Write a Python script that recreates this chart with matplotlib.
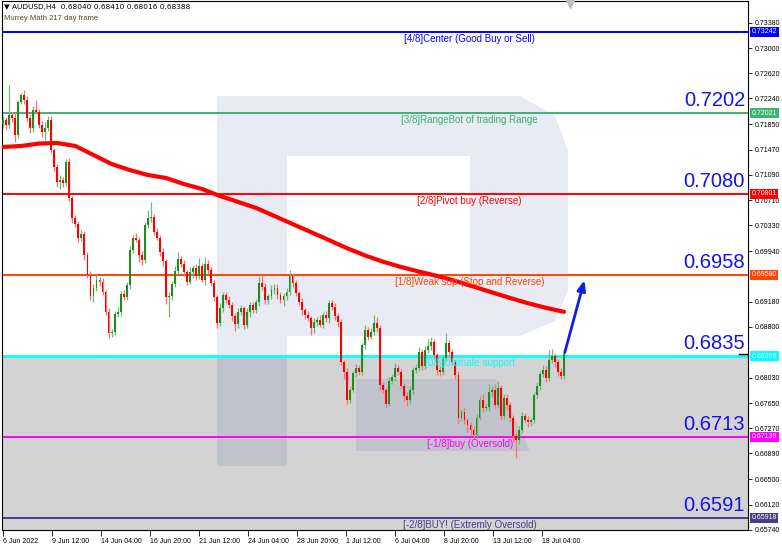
import numpy as np
import matplotlib.pyplot as plt
from matplotlib.transforms import blended_transform_factory
from matplotlib.patches import Polygon

# AUDUSD H4 closes (open of each bar = previous close)
first_open = 0.7185
closes = [
    0.7192, 0.7184, 0.7199, 0.7195, 0.7169, 0.7219, 0.7229, 0.7222, 0.7195, 0.7180,
    0.7207, 0.7204, 0.7184, 0.7174, 0.7180, 0.7192, 0.7146, 0.7121, 0.7098, 0.7101,
    0.7096, 0.7128, 0.7074, 0.7044, 0.7035, 0.7014, 0.7020, 0.6988, 0.6958, 0.6926,
    0.6939, 0.6951, 0.6948, 0.6932, 0.6902, 0.6871, 0.6872, 0.6899, 0.6902, 0.6929,
    0.6925, 0.6943, 0.6996, 0.7014, 0.7011, 0.6988, 0.6981, 0.7033, 0.7044, 0.7045,
    0.7023, 0.7014, 0.6993, 0.6979, 0.6925, 0.6926, 0.6945, 0.6964, 0.6982, 0.6975,
    0.6962, 0.6948, 0.6962, 0.6968, 0.6957, 0.6972, 0.6951, 0.6975, 0.6966, 0.6946,
    0.6925, 0.6886, 0.6908, 0.6928, 0.6920, 0.6913, 0.6896, 0.6884, 0.6902, 0.6908,
    0.6883, 0.6902, 0.6913, 0.6905, 0.6917, 0.6946, 0.6940, 0.6920, 0.6926, 0.6935,
    0.6939, 0.6928, 0.6920, 0.6926, 0.6932, 0.6957, 0.6946, 0.6931, 0.6917, 0.6905,
    0.6898, 0.6893, 0.6878, 0.6887, 0.6890, 0.6883, 0.6898, 0.6893, 0.6916, 0.6910,
    0.6896, 0.6887, 0.6827, 0.6812, 0.6770, 0.6785, 0.6810, 0.6818, 0.6812, 0.6852,
    0.6875, 0.6865, 0.6872, 0.6886, 0.6878, 0.6792, 0.6785, 0.6764, 0.6798, 0.6804,
    0.6818, 0.6812, 0.6791, 0.6776, 0.6770, 0.6785, 0.6815, 0.6818, 0.6842, 0.6821,
    0.6845, 0.6851, 0.6857, 0.6837, 0.6815, 0.6812, 0.6833, 0.6856, 0.6842, 0.6827,
    0.6807, 0.6743, 0.6752, 0.6740, 0.6732, 0.6725, 0.6717, 0.6743, 0.6770, 0.6758,
    0.6759, 0.6782, 0.6785, 0.6762, 0.6788, 0.6746, 0.6773, 0.6762, 0.6743, 0.6716,
    0.6709, 0.6725, 0.6746, 0.6740, 0.6737, 0.6740, 0.6777, 0.6791, 0.6809, 0.6815,
    0.6803, 0.6830, 0.6836, 0.6827, 0.6812, 0.6806, 0.6839,
]
# wick lengths above / below the body, in pips
upper_pips = [
    6, 4, 45, 5, 8, 3, 4, 8, 5, 6, 5, 15, 4, 6, 8, 5, 6, 4, 5, 8,
    4, 5, 6, 3, 5, 4, 6, 5, 4, 6, 5, 8, 4, 5, 3, 6, 4, 5, 8, 5,
    6, 4, 6, 5, 8, 4, 6, 5, 12, 23, 5, 6, 4, 5, 3, 6, 4, 8, 10, 5,
    6, 4, 8, 5, 6, 12, 4, 10, 5, 4, 6, 3, 8, 5, 4, 6, 5, 4, 6, 5,
    4, 6, 5, 4, 5, 10, 12, 6, 4, 8, 5, 6, 4, 5, 6, 8, 4, 5, 3, 6,
    4, 5, 3, 6, 5, 8, 4, 6, 5, 4, 6, 4, 5, 3, 6, 5, 4, 6, 5, 4,
    8, 5, 6, 12, 9, 4, 5, 3, 6, 5, 8, 4, 5, 3, 6, 5, 4, 6, 8, 5,
    6, 10, 8, 5, 4, 6, 5, 14, 4, 5, 3, 6, 4, 5, 3, 4, 5, 6, 5, 8,
    5, 12, 6, 8, 10, 4, 6, 5, 4, 3, 4, 5, 6, 4, 5, 3, 5, 6, 4, 8,
    6, 15, 10, 5, 4, 6, 5,
]
lower_pips = [
    5, 8, 4, 6, 10, 5, 4, 6, 5, 8, 6, 4, 5, 8, 12, 5, 4, 6, 8, 10,
    6, 4, 5, 8, 4, 6, 5, 8, 4, 6, 8, 5, 6, 4, 5, 8, 6, 4, 5, 6,
    4, 5, 6, 5, 4, 10, 8, 5, 4, 6, 5, 4, 6, 8, 10, 30, 6, 5, 4, 5,
    6, 5, 4, 8, 6, 5, 4, 8, 6, 5, 6, 8, 5, 6, 4, 5, 8, 10, 6, 5,
    6, 5, 8, 4, 5, 6, 4, 5, 6, 4, 5, 6, 4, 8, 5, 4, 6, 5, 4, 8,
    6, 5, 10, 8, 6, 4, 5, 6, 8, 5, 6, 8, 5, 10, 6, 5, 4, 6, 5, 4,
    6, 5, 4, 5, 6, 8, 5, 6, 4, 5, 6, 5, 4, 8, 10, 5, 6, 4, 5, 6,
    4, 5, 6, 5, 8, 6, 5, 4, 6, 5, 6, 8, 5, 6, 10, 8, 6, 5, 4, 6,
    5, 6, 8, 5, 4, 6, 5, 8, 6, 10, 27, 6, 5, 4, 8, 6, 5, 4, 6, 5,
    6, 5, 4, 8, 6, 5, 4,
]
# 217-period moving average, sampled every 6 bars
ma_step = 6
ma_values = [
    0.71509, 0.71524, 0.71561, 0.71569, 0.71524, 0.71388, 0.71253, 0.71162,
    0.71087, 0.71042, 0.70951, 0.70876, 0.70770, 0.70680, 0.70589, 0.70469,
    0.70348, 0.70228, 0.70107, 0.69985, 0.69875, 0.69780, 0.69700, 0.69630,
    0.69565, 0.69490, 0.69405, 0.69320, 0.69235, 0.69155, 0.69085, 0.69025,
]

levels = [0.73242, 0.72021, 0.70801, 0.69580, 0.68359, 0.67139, 0.65918]
level_names = [
    '[4/8]Center (Good Buy or Sell)',
    '[3/8]RangeBot of trading Range',
    '[2/8]Pivot buy (Reverse)',
    '[1/8]Weak sup (Stop and Reverse)',
    '[0/8]Ultimate support',
    '[-1/8]buy (Oversold)',
    '[-2/8]BUY! (Extremly Oversold)',
]
level_colors = ['#0000ff', '#3cb371', '#ff0000', '#ff4500', '#00ffff', '#ff00ff', '#483d8b']
big_labels = ['', '0.7202', '0.7080', '0.6958', '0.6835', '0.6713', '0.6591']

price_ticks = [0.73380, 0.73000, 0.72620, 0.72240, 0.71850, 0.71470, 0.71090,
               0.70710, 0.70330, 0.69940, 0.69180, 0.68800, 0.68030, 0.67650,
               0.67270, 0.66890, 0.66500, 0.66120, 0.65740]
date_labels = ['6 Jun 2022', '9 Jun 12:00', '14 Jun 04:00', '16 Jun 20:00',
               '21 Jun 12:00', '24 Jun 04:00', '28 Jun 20:00', '1 Jul 12:00',
               '6 Jul 04:00', '8 Jul 20:00', '13 Jul 12:00', '18 Jul 04:00']
bars_per_label = 16.25

last_price = 0.68388
arrow_start = (186, 0.6837)
arrow_end = (193, 0.6954)

header = 'AUDUSD,H4  0.68040 0.68410 0.68016 0.68388'
subheader = 'Murrey Math 217 day frame'

plt.rcParams['font.family'] = ['Liberation Sans', 'DejaVu Sans']

fig = plt.figure(figsize=(7.82, 5.48), dpi=100)
ax = fig.add_axes([2 / 782, 18 / 548, 746 / 782, 529 / 548])
ax.set_xlim(-0.33, 247)
ax.set_ylim(0.65737, 0.73709)

# grey oversold zone
ax.axhspan(0.6, levels[4], color='#d3d3d3', zorder=0)

# watermark logo (axes coords)
def to_ax(px, py):
    return ((px - 2) / 746, (529 - py) / 529)

logo_parts = [
    [(217, 95), (287, 95), (287, 465), (217, 465)],
    [(287, 95), (520, 95), (555, 115), (568, 150), (568, 290), (555, 320),
     (520, 335), (287, 335), (287, 275), (470, 275), (470, 155), (287, 155)],
    [(356, 378), (496, 378), (530, 450), (356, 450)],
]
for part in logo_parts:
    ax.add_patch(Polygon([to_ax(*p) for p in part], closed=True,
                         transform=ax.transAxes, facecolor='#1f3f8f',
                         alpha=0.1, edgecolor='none', zorder=1))

# candles
closes = np.array(closes)
opens = np.concatenate([[first_open], closes[:-1]])
tops = np.maximum(opens, closes)
bots = np.minimum(opens, closes)
highs = tops + np.array(upper_pips) * 0.0001
lows = bots - np.array(lower_pips) * 0.0001
idx = np.arange(len(closes))
cols = np.where(closes >= opens, '#1e8c1e', '#ff0000')
wick_cols = np.where(closes >= opens, '#6fb86f', '#ff7070')
ax.vlines(idx, lows, highs, colors=wick_cols, linewidth=0.9, zorder=3)
ax.bar(idx, np.maximum(tops - bots, 0.00004), bottom=bots, width=0.62,
       color=cols, linewidth=0, zorder=4)

# moving average
ma_x = np.arange(len(ma_values)) * ma_step
ax.plot(ma_x, ma_values, color='#ff0000', linewidth=3, solid_capstyle='round', zorder=5)

# Murrey levels
tr = blended_transform_factory(ax.transAxes, ax.transData)
for lvl, name, col, big in zip(levels, level_names, level_colors, big_labels):
    ax.axhline(lvl, color=col, linewidth=2 if col == '#00ffff' else 1.4, zorder=2)
    ax.text(0.627, lvl - 0.0003, name, transform=tr, ha='center', va='top',
            fontsize=7, color=col, zorder=6)
    if big:
        ax.text(0.996, lvl + 0.0005, big, transform=tr, ha='right', va='bottom',
                fontsize=14.5, color='#1414e6', zorder=6)
    ax.text(1.005, lvl, f'{lvl:.5f}', transform=tr, ha='left', va='center',
            fontsize=5, color='white', zorder=6, clip_on=False,
            bbox=dict(boxstyle='square,pad=0.2', facecolor=col, edgecolor='none'))

ax.annotate('', xy=arrow_end, xytext=arrow_start,
            arrowprops=dict(arrowstyle='-|>,head_length=0.6,head_width=0.25',
                            color='#1020e0', linewidth=2), zorder=7)

# current price marker on the axis
ax.plot([0.988, 1.0], [last_price, last_price], transform=tr, color='black',
        linewidth=1, zorder=6)

# axes cosmetics
ax.yaxis.tick_right()
ax.set_yticks(price_ticks)
ax.set_yticklabels([f'{t:.5f}' for t in price_ticks])
ax.tick_params(axis='y', labelsize=5, length=3, pad=2, width=0.6)
ax.set_xticks(np.arange(len(date_labels)) * bars_per_label)
ax.set_xticklabels(date_labels)
ax.tick_params(axis='x', labelsize=5, length=4, pad=1.5, width=0.6)
for lbl in ax.get_xticklabels():
    lbl.set_ha('left')
for sp in ax.spines.values():
    sp.set_linewidth(0.8)

fig.text(4 / 782, 1 - 7 / 548, '\u25bc ' + header, fontsize=5.3, va='center',
         family=['DejaVu Sans'])
fig.text(4 / 782, 1 - 19 / 548, subheader, fontsize=5.5, va='center', color='#5a4a20')
ax.plot([568 / 746], [0.995], marker='v', color='#c0c0c0', markersize=6,
        transform=ax.transAxes, clip_on=False, zorder=6)

fig.savefig('out.png', dpi=100)
